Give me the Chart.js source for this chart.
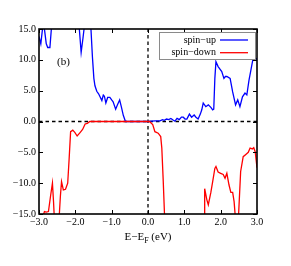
<!DOCTYPE html>
<html>
<head>
<meta charset="utf-8">
<script src="https://cdn.jsdelivr.net/npm/chart.js@4"></script>
<style>
  body { margin: 0; background: #fff; }
  canvas { display: block; }
</style>
</head>
<body>
<canvas id="js--chart" width="291" height="266"></canvas>
<script>
// energy (eV) and DOS values
const upX = [-3.0, -2.95, -2.9, -2.87, -2.84, -2.8, -2.76, -2.7, -2.66, -2.6, -2.3, -1.95, -1.89, -1.84, -1.79, -1.76, -1.7, -1.6, -1.57, -1.53, -1.49, -1.46, -1.41, -1.36, -1.32, -1.27, -1.23, -1.2, -1.16, -1.11, -1.05, -1.0, -0.96, -0.89, -0.84, -0.78, -0.73, -0.68, -0.62, -0.3, 0.0, 0.1, 0.2, 0.33, 0.4, 0.45, 0.51, 0.57, 0.63, 0.7, 0.74, 0.8, 0.86, 0.92, 0.97, 1.02, 1.07, 1.14, 1.2, 1.27, 1.32, 1.38, 1.44, 1.48, 1.52, 1.59, 1.66, 1.73, 1.78, 1.81, 1.84, 1.87, 1.93, 2.03, 2.09, 2.13, 2.17, 2.26, 2.33, 2.41, 2.47, 2.53, 2.6, 2.67, 2.72, 2.78, 2.85, 2.91, 2.97, 3.0];
const upY = [13.8, 12.6, 15.2, 16, 14.5, 12.6, 12.0, 12.0, 15, 20, 22, 18, 15, 11.2, 13.5, 15, 19, 17, 15, 10.5, 7.0, 5.8, 4.9, 4.5, 4.0, 3.4, 4.3, 4.1, 3.0, 3.9, 3.9, 3.5, 3.2, 2.0, 2.7, 3.5, 2.3, 1.0, 0.0, 0.0, 0.0, 0.05, 0.1, 0.1, 0.3, 0.2, 0.4, 0.3, 0.5, 0.2, 0.05, 0.5, 0.3, 0.7, 0.7, 0.4, 0.4, 1.2, 0.7, 1.05, 0.7, 0.4, 1.2, 1.9, 3.0, 2.4, 2.7, 2.3, 1.9, 2.0, 7.0, 9.7, 8.9, 8.1, 7.0, 7.3, 7.3, 7.0, 4.8, 2.7, 3.5, 2.4, 4.0, 4.6, 4.3, 6.7, 8.9, 10.8, 10.0, 10.3];

const downX = [-3.0, -2.9, -2.87, -2.85, -2.8, -2.74, -2.68, -2.63, -2.6, -2.58, -2.54, -2.47, -2.44, -2.41, -2.38, -2.33, -2.27, -2.21, -2.17, -2.13, -2.07, -2.01, -1.95, -1.87, -1.8, -1.73, -1.67, -1.6, 0.0, 0.04, 0.13, 0.19, 0.28, 0.35, 0.38, 0.42, 0.46, 0.5, 1.5, 1.55, 1.56, 1.62, 1.66, 1.73, 1.78, 1.84, 1.87, 1.93, 2.0, 2.07, 2.12, 2.17, 2.23, 2.28, 2.33, 2.37, 2.41, 2.45, 2.49, 2.55, 2.62, 2.7, 2.76, 2.81, 2.87, 2.91, 2.95, 3.0];
const downY = [-17, -16, -15.0, -14.6, -14.7, -14.6, -12, -10.0, -13, -15.5, -20, -18, -15, -12, -9.75, -11.1, -11.0, -10.0, -6, -1.65, -1.4, -1.8, -2.35, -1.8, -1.3, -0.4, -0.3, 0, 0, 0, -0.5, -1.65, -1.9, -2.45, -4.3, -9.75, -16, -20, -20, -16, -10.9, -12.7, -13.5, -11.5, -9.75, -7.6, -7.3, -8.2, -8.4, -8.6, -9.2, -8.4, -10.3, -11.5, -11.5, -13.0, -16, -18, -15.5, -8.1, -5.7, -5.3, -5.0, -4.3, -4.45, -4.25, -4.9, -7.5];

const xTicks = [-3, -2, -1, 0, 1, 2, 3];
const yTicks = [-15, -10, -5, 0, 5, 10, 15];
const seriesNames = ["spin\u2212up", "spin\u2212down"];
const seriesColors = ["#0000ff", "#ff0000"];

const serif = "'Liberation Serif', 'DejaVu Serif', serif";

function fmt(v){
    let s = v.toFixed(1);
    return s.replace("-", "\u2212");
}

function toPoints(xs, ys){
    return xs.map(function(x, i){ return {x: x, y: ys[i]}; });
}

// frame, inner ticks, legend box, axis title and panel label
const decorPlugin = {
    id: "decor",
    afterDraw: function(chart){
        const ctx = chart.ctx;
        const a = chart.chartArea;
        const xs = chart.scales.x;
        const ys = chart.scales.y;
        ctx.save();
        ctx.strokeStyle = "#000";
        ctx.lineWidth = 1;
        xTicks.forEach(function(t){
            const px = Math.round(xs.getPixelForValue(t)) + 0.5;
            ctx.beginPath();
            ctx.moveTo(px, a.bottom); ctx.lineTo(px, a.bottom - 4);
            ctx.moveTo(px, a.top); ctx.lineTo(px, a.top + 4);
            ctx.stroke();
        });
        yTicks.forEach(function(t){
            const py = Math.round(ys.getPixelForValue(t)) + 0.5;
            ctx.beginPath();
            ctx.moveTo(a.left, py); ctx.lineTo(a.left + 4, py);
            ctx.moveTo(a.right, py); ctx.lineTo(a.right - 4, py);
            ctx.stroke();
        });
        ctx.lineWidth = 1.6;
        ctx.strokeRect(a.left, a.top, a.right - a.left, a.bottom - a.top);

        // legend
        ctx.fillStyle = "#fff";
        ctx.fillRect(159.5, 32.5, 96, 27);
        ctx.strokeStyle = "#8a8a8a";
        ctx.lineWidth = 1;
        ctx.strokeRect(159.5, 32.5, 96, 27);
        ctx.font = "10px " + serif;
        ctx.textAlign = "right";
        ctx.textBaseline = "middle";
        seriesNames.forEach(function(name, i){
            const y = 40 + i * 12.7;
            ctx.fillStyle = "#000";
            ctx.fillText(name, 216, y);
            ctx.strokeStyle = seriesColors[i];
            ctx.lineWidth = 1.3;
            ctx.beginPath();
            ctx.moveTo(220, y); ctx.lineTo(248, y);
            ctx.stroke();
        });

        // panel label
        ctx.fillStyle = "#000";
        ctx.textAlign = "left";
        ctx.font = "11px " + serif;
        ctx.fillText("(b)", 57, 62);

        // x axis title with subscript
        const main = "E\u2212E";
        const sub = "F";
        const rest = " (eV)";
        ctx.font = "11px " + serif;
        const w1 = ctx.measureText(main).width;
        const w3 = ctx.measureText(rest).width;
        ctx.font = "8px " + serif;
        const w2 = ctx.measureText(sub).width;
        let x0 = (a.left + a.right) / 2 - (w1 + w2 + w3) / 2;
        const ty = 237;
        ctx.font = "11px " + serif;
        ctx.fillText(main, x0, ty);
        ctx.font = "8px " + serif;
        ctx.fillText(sub, x0 + w1, ty + 4);
        ctx.font = "11px " + serif;
        ctx.fillText(rest, x0 + w1 + w2, ty);
        ctx.restore();
    }
};

const dataDos = {
    datasets: [
        {
            label: seriesNames[1],
            data: toPoints(downX, downY),
            borderColor: seriesColors[1],
            borderWidth: 1.3,
            pointRadius: 0,
            order: 1
        },
        {
            label: seriesNames[0],
            data: toPoints(upX, upY),
            borderColor: seriesColors[0],
            borderWidth: 1.3,
            pointRadius: 0,
            order: 2
        },
        {
            label: "zero",
            data: [{x: -3, y: 0}, {x: 3, y: 0}],
            borderColor: "#000",
            borderWidth: 1.3,
            borderDash: [3.5, 3],
            pointRadius: 0,
            order: 3
        },
        {
            label: "fermi",
            data: [{x: 0, y: -15}, {x: 0, y: 15}],
            borderColor: "#000",
            borderWidth: 1.3,
            borderDash: [3.5, 3],
            pointRadius: 0,
            order: 3
        }
    ]
};

const configDos = {
    type: "line",
    data: dataDos,
    options: {
        responsive: false,
        animation: false,
        devicePixelRatio: 1,
        layout: { padding: { left: 0, top: 29, right: 34, bottom: 0 } },
        plugins: { legend: { display: false }, tooltip: { enabled: false } },
        elements: { line: { tension: 0 } },
        scales: {
            x: {
                type: "linear",
                min: -3, max: 3,
                afterBuildTicks: function(scale){ scale.ticks = xTicks.map(function(v){ return {value: v}; }); },
                afterFit: function(scale){ scale.height = 52; },
                grid: { display: false, drawTicks: false },
                border: { display: false },
                ticks: {
                    padding: 2,
                    color: "#000",
                    maxRotation: 0,
                    font: { family: serif, size: 10 },
                    callback: function(v){ return fmt(v); }
                }
            },
            y: {
                type: "linear",
                min: -15, max: 15,
                afterBuildTicks: function(scale){ scale.ticks = yTicks.map(function(v){ return {value: v}; }); },
                afterFit: function(scale){ scale.width = 39; },
                grid: { display: false, drawTicks: false },
                border: { display: false },
                ticks: {
                    padding: 3,
                    color: "#000",
                    font: { family: serif, size: 10 },
                    callback: function(v){ return fmt(v); }
                }
            }
        }
    },
    plugins: [decorPlugin]
};

const graph = new Chart(document.getElementById("js--chart"), configDos);
</script>
</body>
</html>
